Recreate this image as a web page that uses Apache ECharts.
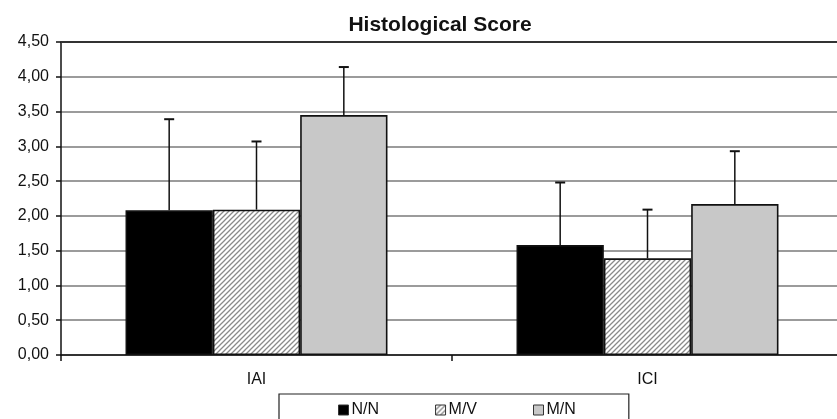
<!DOCTYPE html>
<html>
<head>
<meta charset="utf-8">
<script src="https://cdn.jsdelivr.net/npm/echarts@6/dist/echarts.min.js"></script>
<style>html,body{margin:0;padding:0;background:#fff;overflow:hidden;width:837px;height:419px}#c{width:844px;height:419px}</style>
</head>
<body>
<div id="c"></div>
<script>
var categories = ['IAI', 'ICI'];
var seriesNames = ['N/N', 'M/V', 'M/N'];
var valuesNN = [2.08, 1.58];
var valuesMV = [2.09, 1.39];
var valuesMN = [3.45, 2.17];
var errNN = [1.31, 0.90];
var errMV = [0.98, 0.70];
var errMN = [0.69, 0.76];
var yTicks = [0, 0.5, 1, 1.5, 2, 2.5, 3, 3.5, 4, 4.5];

var FONT = '"Liberation Sans", Arial, sans-serif';
var CAT_GAP = 0.33;

function hatch() {
  var s = 5, cv = document.createElement('canvas');
  cv.width = s; cv.height = s;
  var g = cv.getContext('2d');
  g.fillStyle = '#fff'; g.fillRect(0, 0, s, s);
  g.strokeStyle = '#8a8a8a'; g.lineWidth = 1.3;
  g.beginPath();
  g.moveTo(-1, s + 1); g.lineTo(s + 1, -1);
  g.moveTo(-1, 1); g.lineTo(1, -1);
  g.moveTo(s - 1, s + 1); g.lineTo(s + 1, s - 1);
  g.stroke();
  return cv;
}

var allVals = [valuesNN, valuesMV, valuesMN];
var allErr = [errNN, errMV, errMN];
var errData = [];
for (var k = 0; k < 3; k++) {
  for (var c = 0; c < categories.length; c++) {
    errData.push([c, allVals[k][c], allErr[k][c], k]);
  }
}

var barStyleBase = {borderColor: '#111', borderWidth: 1.6};

var chart = echarts.init(document.getElementById('c'), null, {renderer: 'canvas'});
chart.setOption({
  animation: false,
  backgroundColor: '#fff',
  title: {
    text: 'Histological Score', left: 435, top: 10, textAlign: 'center',
    textStyle: {fontFamily: FONT, fontSize: 21, fontWeight: 'bold', color: '#111'}
  },
  legend: {
    data: seriesNames,
    left: 279, top: 394,
    padding: [8, 53, 20, 59],
    itemGap: 56,
    itemWidth: 10, itemHeight: 10,
    itemStyle: {borderColor: '#333', borderWidth: 1},
    icon: 'rect',
    borderColor: '#222', borderWidth: 1.2,
    textStyle: {fontFamily: FONT, fontSize: 16, color: '#111', padding: [0, 0, 0, -2]}
  },
  grid: {left: 61, top: 42, right: 1, bottom: 64, containLabel: false},
  xAxis: {
    type: 'category', data: categories,
    axisLine: {lineStyle: {color: '#111', width: 1.5}},
    axisTick: {show: true, length: 6, alignWithLabel: false, lineStyle: {color: '#111', width: 1.5}},
    axisLabel: {margin: 17, fontFamily: FONT, fontSize: 16, color: '#111'}
  },
  yAxis: {
    type: 'value', min: yTicks[0], max: yTicks[yTicks.length - 1], interval: yTicks[1] - yTicks[0],
    axisLine: {show: true, lineStyle: {color: '#111', width: 1.5}},
    axisTick: {show: true, length: 5, lineStyle: {color: '#111', width: 1.5}},
    axisLabel: {
      margin: 12, fontFamily: FONT, fontSize: 16, color: '#111',
      formatter: function (v) { return v.toFixed(2).replace('.', ','); }
    },
    splitLine: {show: true, lineStyle: {color: '#7a7a7a', width: 1.5}}
  },
  series: [
    {
      name: seriesNames[0], type: 'bar', data: valuesNN,
      barGap: '0%', barCategoryGap: (CAT_GAP * 100) + '%',
      itemStyle: Object.assign({color: '#000'}, barStyleBase),
      markLine: {
        silent: true, symbol: 'none', label: {show: false},
        lineStyle: {color: '#333', width: 2, type: 'solid'},
        data: [{yAxis: yTicks[yTicks.length - 1]}]
      }
    },
    {
      name: seriesNames[1], type: 'bar', data: valuesMV,
      barGap: '0%', barCategoryGap: (CAT_GAP * 100) + '%',
      itemStyle: Object.assign({color: {image: hatch(), repeat: 'repeat'}}, barStyleBase)
    },
    {
      name: seriesNames[2], type: 'bar', data: valuesMN,
      barGap: '0%', barCategoryGap: (CAT_GAP * 100) + '%',
      itemStyle: Object.assign({color: '#c8c8c8'}, barStyleBase)
    },
    {
      type: 'custom', z: 10, silent: true,
      data: errData,
      encode: {x: 0, y: 1},
      renderItem: function (params, api) {
        var cat = api.value(0), v = api.value(1), e = api.value(2), k = api.value(3);
        var band = api.size([1, 0])[0];
        var bw = band * (1 - CAT_GAP) / 3;
        var base = api.coord([cat, v]);
        var top = api.coord([cat, v + e]);
        var x = base[0] + (k - 1) * bw;
        var style = {stroke: '#111', lineWidth: 1.5};
        return {
          type: 'group',
          children: [
            {type: 'line', shape: {x1: x, y1: base[1], x2: x, y2: top[1]}, style: style},
            {type: 'line', shape: {x1: x - 5, y1: top[1], x2: x + 5, y2: top[1]}, style: {stroke: '#111', lineWidth: 2}}
          ]
        };
      }
    }
  ]
});
</script>
</body>
</html>
